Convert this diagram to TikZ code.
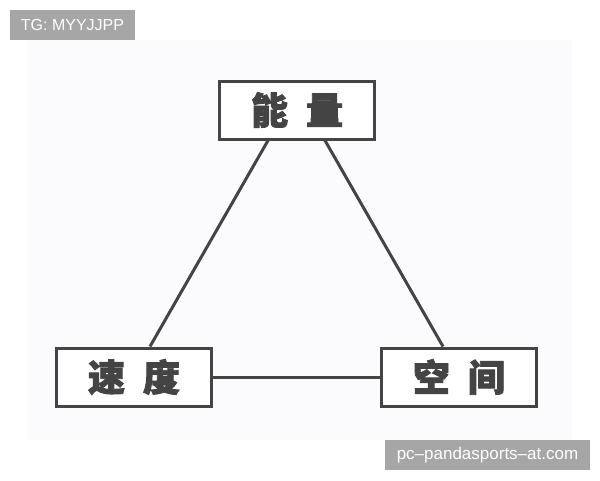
\documentclass[tikz,border=0pt]{standalone}
\usepackage{fontspec}
\newfontfamily\cjk{Noto Sans CJK SC}[FakeBold=2.5]
\setmainfont{Liberation Sans}
\definecolor{boxline}{HTML}{444444}
\definecolor{inner}{HTML}{FBFAFD}
\definecolor{tag}{HTML}{A6A6A6}
\begin{document}
\begin{tikzpicture}[x=1pt,y=-1pt,
  kbox/.style={draw=boxline,line width=3pt,fill=white,minimum width=155pt,minimum height=58pt,inner sep=0pt,
    font=\cjk\bfseries\fontsize{37}{37}\selectfont,text=boxline},
  link/.style={draw=boxline,line width=3pt},
  tagbox/.style={fill=tag,text=white,inner sep=0pt,minimum height=30pt}]
\useasboundingbox (0,0) rectangle (600,480);
\fill[white] (0,0) rectangle (600,480);
\fill[inner] (27,40) rectangle (572,440);
\node[kbox] (e) at (297,110) {能\hspace{18pt}量};
\node[kbox] (v) at (134,377) {速\hspace{18pt}度};
\node[kbox] (s) at (459,377) {空\hspace{18pt}间};
\path (e.south) ++(-29,0) coordinate (e1);
\path (e.south) ++(28,0) coordinate (e2);
\path (v.north) ++(16,0) coordinate (v1);
\path (s.north) ++(-16,0) coordinate (s1);
\draw[link] (e1) -- (v1);
\draw[link] (e2) -- (s1);
\draw[link] (v.east) -- (s.west);
\node[tagbox,minimum width=125pt,font=\fontsize{16}{16}\selectfont] (tg) at (72.5,25) {TG: MYYJJPP};
\node[tagbox,minimum width=205pt,font=\fontsize{17}{17}\selectfont] (url) at (487.5,455) {pc–pandasports–at.com};
\end{tikzpicture}
\end{document}
